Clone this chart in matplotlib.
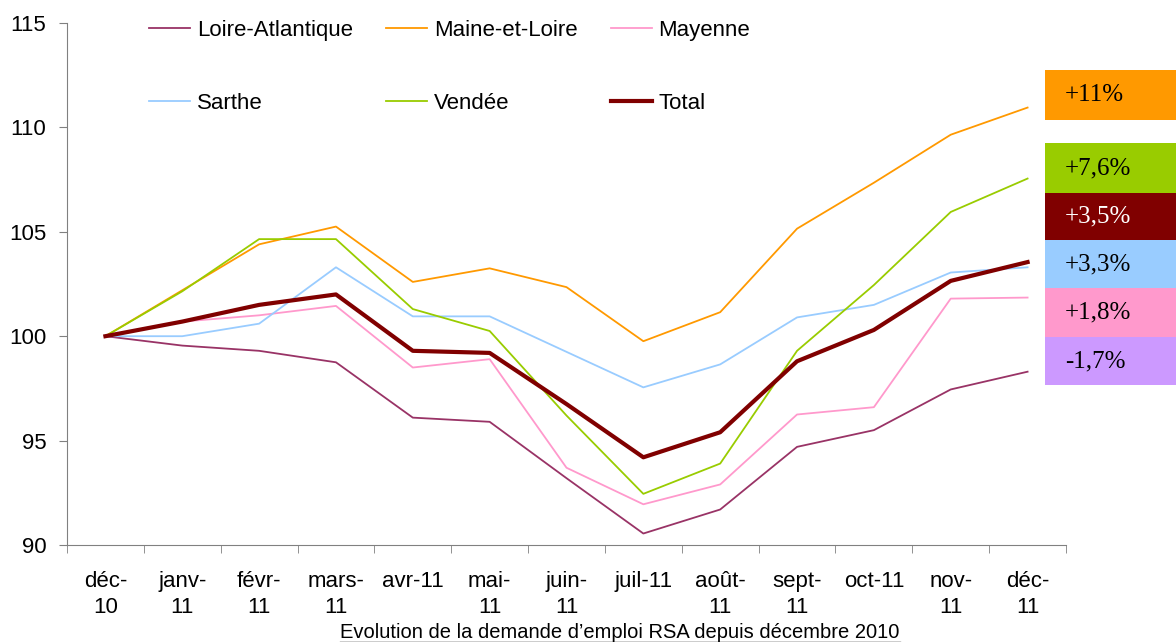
import matplotlib
matplotlib.use('Agg')
import matplotlib.pyplot as plt
from matplotlib.patches import Rectangle
from matplotlib.lines import Line2D
import numpy as np

plt.rcParams['font.family'] = ['Liberation Sans', 'DejaVu Sans']

months = ['déc-\n10', 'janv-\n11', 'févr-\n11', 'mars-\n11', 'avr-11', 'mai-\n11', 'juin-\n11',
          'juil-11', 'août-\n11', 'sept-\n11', 'oct-11', 'nov-\n11', 'déc-\n11']

loire_atlantique = [100, 99.55, 99.3, 98.75, 96.1, 95.9, 93.2, 90.55, 91.7, 94.7, 95.5, 97.45, 98.3]
maine_et_loire = [100, 102.2, 104.4, 105.25, 102.6, 103.25, 102.35, 99.76, 101.15, 105.15, 107.35, 109.65, 110.95]
mayenne = [100, 100.7, 101.0, 101.45, 98.5, 98.9, 93.7, 91.95, 92.9, 96.25, 96.6, 101.8, 101.85]
sarthe = [100, 100.0, 100.6, 103.3, 100.95, 100.95, 99.25, 97.55, 98.65, 100.9, 101.5, 103.05, 103.3]
vendee = [100, 102.15, 104.65, 104.65, 101.3, 100.25, 96.2, 92.45, 93.9, 99.3, 102.45, 105.95, 107.55]
total = [100, 100.7, 101.5, 102.0, 99.3, 99.2, 96.75, 94.2, 95.4, 98.8, 100.3, 102.65, 103.55]

evol_labels = ['+11%', '+7,6%', '+3,5%', '+3,3%', '+1,8%', '-1,7%']
evol_colors = ['#FF9900', '#99CC00', '#800000', '#99CCFF', '#FF99CC', '#CC99FF']
evol_text_colors = ['black', 'black', 'white', 'black', 'black', 'black']

title = 'Evolution de la demande d\u2019emploi RSA depuis décembre 2010'

fig = plt.figure(figsize=(11.76, 6.42), dpi=100)
ax = fig.add_axes([67/1176, 1 - 545/642, 999/1176, 522/642])

x = np.arange(len(months))
h_loire, = ax.plot(x, loire_atlantique, color='#993366', lw=1.3, label='Loire-Atlantique')
h_maine, = ax.plot(x, maine_et_loire, color='#FF9900', lw=1.3, label='Maine-et-Loire')
h_may, = ax.plot(x, mayenne, color='#FF99CC', lw=1.3, label='Mayenne')
h_sar, = ax.plot(x, sarthe, color='#99CCFF', lw=1.3, label='Sarthe')
h_ven, = ax.plot(x, vendee, color='#99CC00', lw=1.3, label='Vendée')
h_tot, = ax.plot(x, total, color='#800000', lw=3, label='Total')

ax.set_xlim(-0.5, len(months) - 0.5)
ax.set_ylim(90, 115)
ax.set_yticks([90, 95, 100, 105, 110, 115])
ax.tick_params(axis='y', labelsize=16, direction='out', length=6, color='#808080', pad=9)

ax.set_xticks(x)
ax.set_xticklabels(months, fontsize=16, linespacing=1.26, va='top')
ax.set_xticks(np.arange(len(months) + 1) - 0.5, minor=True)
ax.tick_params(axis='x', which='major', length=0, pad=19)
ax.tick_params(axis='x', which='minor', length=6, color='#808080', direction='out')

for s in ['top', 'right']:
    ax.spines[s].set_visible(False)
for s in ['left', 'bottom']:
    ax.spines[s].set_color('#808080')

handles = [h_loire, h_sar, h_maine, h_ven, h_may, h_tot]
ax.legend(handles=handles, labels=[h.get_label() for h in handles], ncol=3,
          loc='upper left', bbox_to_anchor=((149 - 67) / 999, (545 - 20) / 522),
          frameon=False, fontsize=16, borderpad=0, borderaxespad=0,
          labelspacing=2.33, handlelength=1.85, handletextpad=0.3, columnspacing=1.5)

# colored evolution boxes on the right
box_tops = [70, 143, 193, 240, 288, 337]
box_bottoms = [120, 193, 240, 288, 337, 385]
for lab, col, tcol, t, b in zip(evol_labels, evol_colors, evol_text_colors, box_tops, box_bottoms):
    fig.add_artist(Rectangle((1045 / 1176, 1 - b / 642), 140 / 1176, (b - t) / 642,
                             transform=fig.transFigure, facecolor=col, edgecolor='none'))
    fig.text(1065 / 1176, 1 - (t + b) / 2 / 642, lab, color=tcol, fontsize=18,
             family=['Liberation Serif', 'DejaVu Serif'], va='center', ha='left')

# underlined caption
cap = fig.text(620 / 1176, 1 - 632 / 642, title, fontsize=14.5, ha='center', va='center')
fig.canvas.draw()
bb = cap.get_window_extent()
fig.add_artist(Line2D([bb.x0, bb.x1], [bb.y0, bb.y0], transform=None, color='black', lw=1))

fig.savefig('out.png', dpi=100)
